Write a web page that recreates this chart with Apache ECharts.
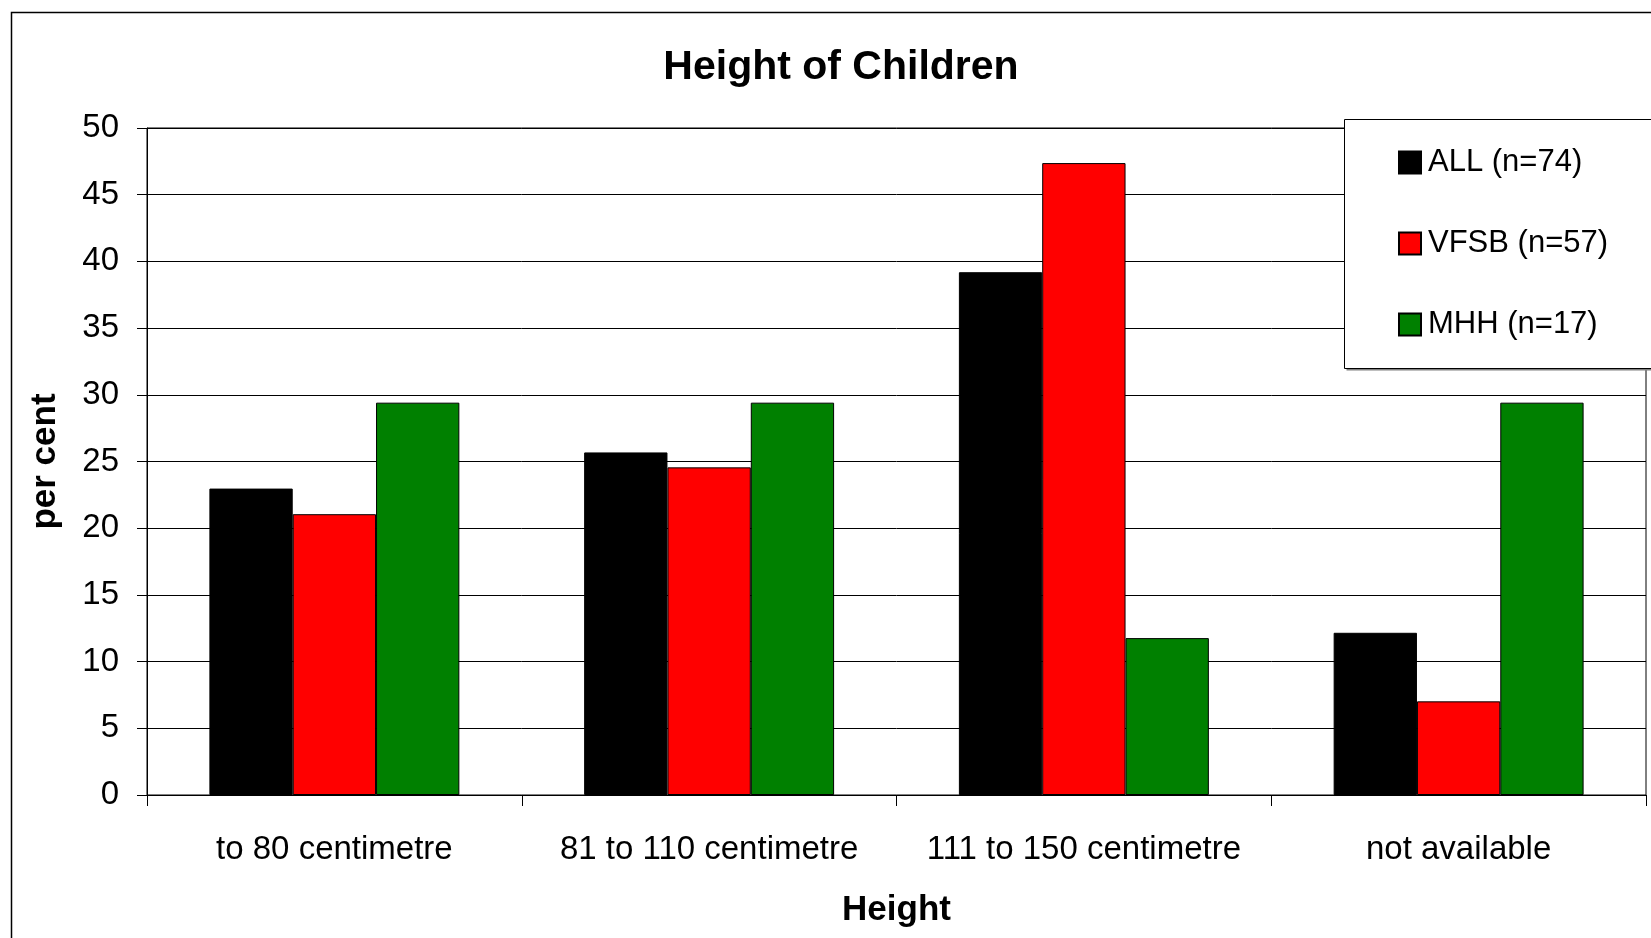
<!DOCTYPE html>
<html>
<head>
<meta charset="utf-8">
<script src="https://cdn.jsdelivr.net/npm/echarts@6/dist/echarts.min.js"></script>
<style>
html,body{margin:0;padding:0;background:#fff;}
#chart{width:1651px;height:938px;}
</style>
</head>
<body>
<div id="chart"></div>
<script>
const categories = ['to 80 centimetre', '81 to 110 centimetre', '111 to 150 centimetre', 'not available'];
const seriesNames = ['ALL (n=74)', 'VFSB (n=57)', 'MHH (n=17)'];
const allValues = [22.97, 25.68, 39.19, 12.16];
const vfsbValues = [21.05, 24.56, 47.37, 7.02];
const mhhValues = [29.41, 29.41, 11.76, 29.41];
const colors = ['#000000', '#FF0000', '#008000'];

const FONT = '"Liberation Sans", Arial, sans-serif';
const chart = echarts.init(document.getElementById('chart'), null, {renderer: 'canvas'});

const seriesData = [allValues, vfsbValues, mhhValues];

chart.setOption({
  animation: false,
  backgroundColor: '#fff',
  title: {
    text: 'Height of Children',
    left: 836,
    textAlign: 'center',
    top: 42,
    textStyle: {fontFamily: FONT, fontWeight: 'bold', fontSize: 41, color: '#000'}
  },
  graphic: [
    {type: 'rect', z: 0, silent: true,
     shape: {x: 11.5, y: 12.5, width: 2000, height: 2000},
     style: {fill: null, stroke: '#000', lineWidth: 1.5}},
    {type: 'rect', z: 10, silent: true,
     shape: {x: 1346.5, y: 121.5, width: 400, height: 249},
     style: {fill: '#808080', stroke: null}},
    {type: 'rect', z: 11, silent: true,
     shape: {x: 1344.5, y: 119.5, width: 400, height: 249},
     style: {fill: '#fff', stroke: '#000', lineWidth: 1}}
  ],
  legend: {
    orient: 'vertical',
    left: 1398,
    top: 147,
    z: 20,
    padding: 0,
    itemWidth: 22,
    itemHeight: 22,
    itemGap: 50,
    icon: 'rect',
    data: seriesNames,
    textStyle: {fontFamily: FONT, fontSize: 31, color: '#000', lineHeight: 31, padding: [0, 0, 0, 2]}
  },
  grid: {
    left: 147, right: 5, top: 128, bottom: 143,
    show: true, borderColor: '#000', borderWidth: 1, backgroundColor: 'transparent'
  },
  xAxis: {
    type: 'category',
    data: categories,
    name: 'Height',
    nameLocation: 'middle',
    nameGap: 98,
    nameTextStyle: {fontFamily: FONT, fontWeight: 'bold', fontSize: 35, color: '#000'},
    axisLine: {lineStyle: {color: '#000', width: 1}},
    axisTick: {show: true, length: 11, lineStyle: {color: '#000'}},
    axisLabel: {fontFamily: FONT, fontSize: 33, color: '#000', margin: 38, interval: 0}
  },
  yAxis: {
    type: 'value',
    min: 0, max: 50, interval: 5,
    name: 'per cent',
    nameLocation: 'middle',
    nameGap: 84,
    nameTextStyle: {fontFamily: FONT, fontWeight: 'bold', fontSize: 35, color: '#000'},
    axisLine: {show: true, lineStyle: {color: '#000', width: 1}},
    axisTick: {show: true, length: 10, lineStyle: {color: '#000'}},
    axisLabel: {fontFamily: FONT, fontSize: 33, color: '#000', margin: 28},
    splitLine: {show: true, lineStyle: {color: '#000', width: 1}}
  },
  series: seriesNames.map((n, i) => ({
    name: n,
    type: 'bar',
    data: seriesData[i],
    barGap: '0%',
    barCategoryGap: '33.3%',
    itemStyle: {color: colors[i], borderColor: '#000', borderWidth: 1}
  }))
});
</script>
</body>
</html>
